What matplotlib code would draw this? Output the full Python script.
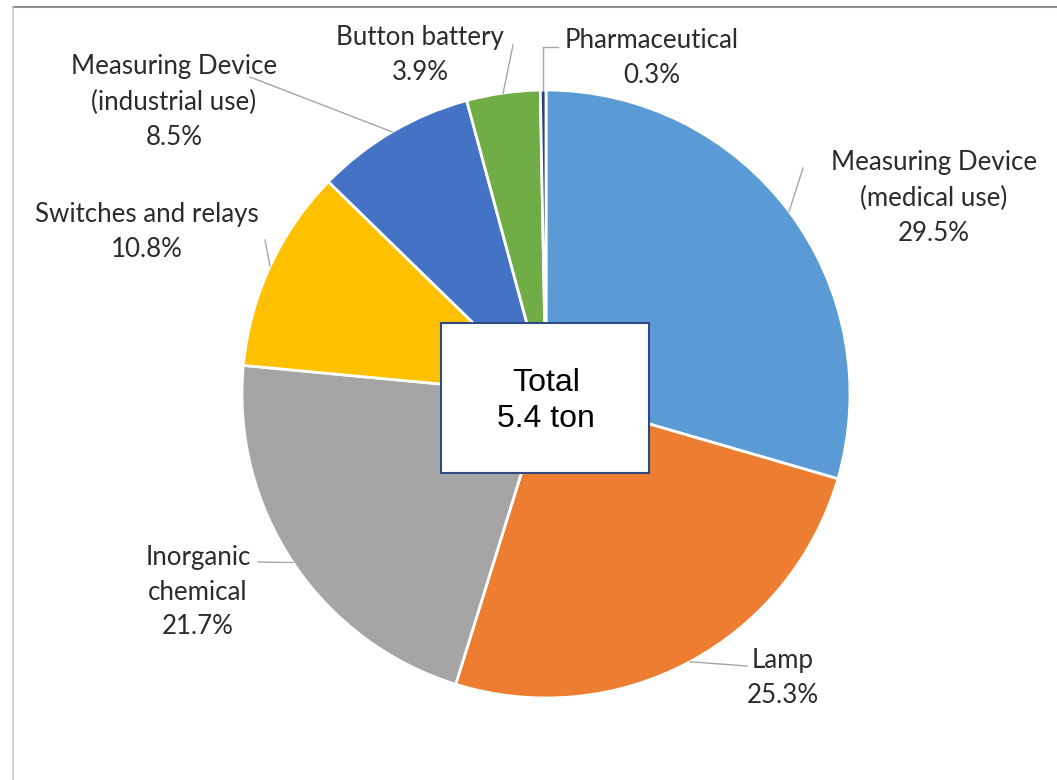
import numpy as np
import matplotlib
matplotlib.use("Agg")
import matplotlib.pyplot as plt
from matplotlib.patches import Rectangle

# data
categories = [
    "Measuring Device\n(medical use)",
    "Lamp",
    "Inorganic\nchemical",
    "Switches and relays",
    "Measuring Device\n(industrial use)",
    "Button battery",
    "Pharmaceutical",
]
shares = [29.5, 25.3, 21.7, 10.8, 8.5, 3.9, 0.3]
total_text = "Total\n5.4 ton"

COLORS = ["#5B9BD5", "#ED7D31", "#A5A5A5", "#FFC000", "#4472C4", "#70AD47", "#264478"]

# layout in image pixels (y down)
W, H = 1057, 780
CX, CY, R = 546, 394, 304
LABEL_POS = [(934, 198), (783, 678), (198, 592), (147, 232), (174, 102), (420, 55), (652, 58)]
LEADER_END = [(803, 168), (747, 666), (258, 562), (265, 240), (250, 77), (513, 45), (558, 47)]
BOX = (441, 323, 649, 473)

TEXT_COLOR = "#2B2B2B"
LINE_COLOR = "#A6A6A6"


def fy(y):
    return H - y


def main():
    fig = plt.figure(figsize=(W / 100, H / 100), dpi=100)
    ax = fig.add_axes([0, 0, 1, 1])

    wedges, _ = ax.pie(shares, colors=COLORS, startangle=90, counterclock=False,
                       center=(CX, fy(CY)), radius=R,
                       wedgeprops=dict(edgecolor="white", linewidth=2))
    ax.set_xlim(0, W)
    ax.set_ylim(0, H)
    ax.axis("off")

    for i, (w, lab, val) in enumerate(zip(wedges, categories, shares)):
        ang = np.deg2rad((w.theta1 + w.theta2) / 2)
        px = CX + R * np.cos(ang)
        py = fy(CY) + R * np.sin(ang)
        ex, ey = LEADER_END[i]
        if lab == "Pharmaceutical":
            xs, ys = [ex, px, px], [fy(ey), fy(ey), py]
        else:
            xs, ys = [ex, px], [fy(ey), py]
        ax.plot(xs, ys, color=LINE_COLOR, lw=1)
        tx, ty = LABEL_POS[i]
        ax.text(tx, fy(ty), f"{lab}\n{val:.1f}%", ha="center", va="center",
                fontsize=18.6, family=["Lato", "DejaVu Sans"], color=TEXT_COLOR,
                linespacing=1.5)

    x0, y0, x1, y1 = BOX
    ax.add_patch(Rectangle((x0, fy(y1)), x1 - x0, y1 - y0, facecolor="white",
                           edgecolor="#2F4A80", lw=1.5, zorder=5))
    ax.text((x0 + x1) / 2 + 1, fy((y0 + y1) / 2) - 3, total_text, ha="center", va="center",
            fontsize=23, family=["Liberation Sans", "DejaVu Sans"], color="black",
            linespacing=1.25, zorder=6)

    # outer frame (top and left edges visible in the reference)
    ax.plot([13, W], [fy(7), fy(7)], color="#909090", lw=1.5)
    ax.plot([13, 13], [fy(7), 0], color="#C8C8C8", lw=1.2)

    fig.savefig("out.png", dpi=100)


if __name__ == "__main__":
    main()
